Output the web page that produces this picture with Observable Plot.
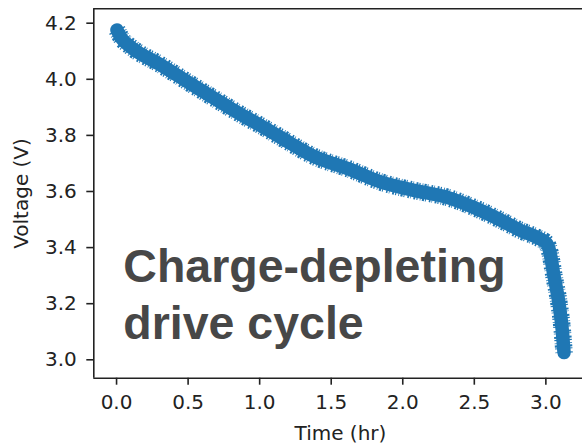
<!DOCTYPE html>
<html><head><meta charset="utf-8">
<script src="https://cdn.jsdelivr.net/npm/d3@7"></script>
<script src="https://cdn.jsdelivr.net/npm/@observablehq/plot@0.6"></script>
<style>html,body{margin:0;padding:0;background:#fff}</style>
</head><body><div id="chart"></div>
<script>
// Battery voltage (centre of the noisy trace) vs time
const timeHr = [0.003, 0.035, 0.098, 0.307, 0.517, 0.727, 0.901, 0.983, 1.146, 1.379, 1.636, 1.845, 2.078, 2.311, 2.497, 2.730, 2.823, 2.940, 3.005, 3.029, 3.056, 3.091, 3.115, 3.127];
const voltage = [4.176, 4.146, 4.116, 4.052, 3.984, 3.918, 3.865, 3.842, 3.793, 3.725, 3.678, 3.634, 3.604, 3.579, 3.543, 3.486, 3.461, 3.436, 3.415, 3.382, 3.301, 3.204, 3.104, 3.026];
const xTicks = [0.0, 0.5, 1.0, 1.5, 2.0, 2.5, 3.0];
const yTicks = [3.0, 3.2, 3.4, 3.6, 3.8, 4.0, 4.2];
const xDomain = [-0.159, 3.256];
const yDomain = [2.9344, 4.2513];
const xTitle = "Time (hr)";
const yTitle = "Voltage (V)";
const annotationLines = ["Charge-depleting", "drive cycle"];

const data = timeHr.map((t, i) => ({t, v: voltage[i]}));
const fmt = d3.format(".1f");
const blue = "#1f77b4";

const chart = Plot.plot({
  width: 582, height: 446,
  marginLeft: 93.3, marginRight: 0, marginTop: 8.3, marginBottom: 68.3,
  style: {fontFamily: "'DejaVu Sans', sans-serif", fontSize: "20px", color: "#222", background: "#fff"},
  x: {domain: xDomain},
  y: {domain: yDomain},
  marks: [
    // ragged fringe of the noisy trace (dash pattern only, no data noise)
    Plot.line(data, {x: "t", y: "v", curve: "monotone-x", stroke: blue, strokeWidth: 17.5, strokeLinecap: "butt", strokeLinejoin: "round", strokeDasharray: "1.2,2.1,0.8,1.3,2.2,0.9,1,3,1.6,1.2,0.7,2.6,1.9,1.1"}),
    Plot.line(data, {x: "t", y: "v", curve: "monotone-x", stroke: blue, strokeWidth: 13.5, strokeLinecap: "round", strokeLinejoin: "round"}),
    Plot.ruleY([yDomain[0], yDomain[1]], {stroke: "#222", strokeWidth: 1.6}),
    Plot.ruleX([xDomain[0]], {stroke: "#222", strokeWidth: 1.6}),
    Plot.axisX({ticks: xTicks, tickFormat: fmt, tickSize: 7, tickPadding: 10, label: null, strokeWidth: 1.6, fontSize: 20}),
    Plot.axisY({ticks: yTicks, tickFormat: fmt, tickSize: 7, tickPadding: 10, label: null, strokeWidth: 1.6, fontSize: 20}),
    Plot.text([xTitle], {text: d => d, frameAnchor: "bottom", lineAnchor: "top", textAnchor: "middle", dx: 2.3, dy: 48, fontSize: 20, fill: "#222"}),
    Plot.text([yTitle], {text: d => d, frameAnchor: "left", lineAnchor: "top", textAnchor: "middle", rotate: -90, dx: -80, dy: 0, fontSize: 20, fill: "#222"}),
    Plot.text([annotationLines[0]], {text: d => d, frameAnchor: "top-left", lineAnchor: "top", textAnchor: "start", dx: 29.5, dy: 240.3, fontSize: 46.5, fontWeight: "bold", fontFamily: "'Liberation Sans', Arial, sans-serif", fill: "#474747"}),
    Plot.text([annotationLines[1]], {text: d => d, frameAnchor: "top-left", lineAnchor: "top", textAnchor: "start", dx: 29.5, dy: 297.1, fontSize: 46.5, fontWeight: "bold", fontFamily: "'Liberation Sans', Arial, sans-serif", fill: "#474747"})
  ]
});
document.getElementById("chart").appendChild(chart);
</script>
</body></html>
